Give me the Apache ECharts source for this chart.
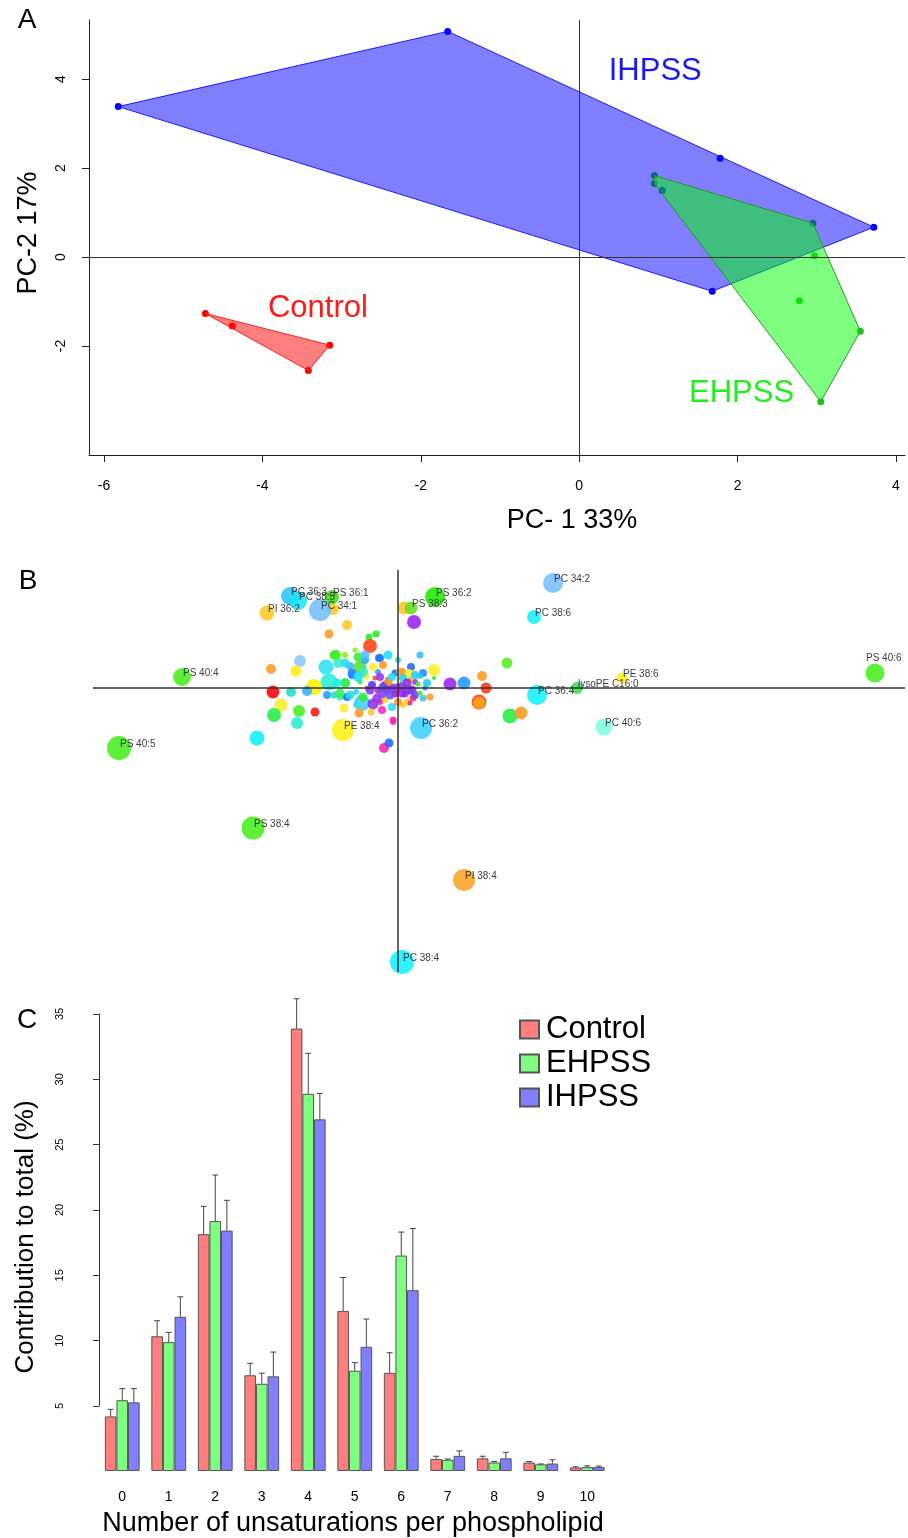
<!DOCTYPE html>
<html>
<head>
<meta charset="utf-8">
<script src="https://cdn.jsdelivr.net/npm/echarts@6/dist/echarts.min.js"></script>
<style>
  html, body { margin: 0; padding: 0; background: #fff; }
  #chart { width: 908px; height: 1538px; }
</style>
</head>
<body>
<div id="chart"></div>
<script>
// ---- A: PCA scores ----
const controlScores = [[-4.72, -1.27], [-4.38, -1.55], [-3.15, -1.98], [-3.42, -2.55]];
const ehpssScores = [[0.95, 1.83], [0.95, 1.65], [2.95, 0.76], [2.97, 0.03], [3.55, -1.67], [3.05, -3.25], [2.78, -0.98]];
const ihpssScores = [[-5.82, 3.38], [-1.66, 5.07], [1.78, 2.22], [3.72, 0.67], [1.68, -0.77], [1.05, 1.5]];
const groupNames = ["Control", "EHPSS", "IHPSS"];
const groupTextAt = [[-3.30, -1.15], [2.05, -3.06], [0.96, 4.16]];
const pc1Ticks = [-6, -4, -2, 0, 2, 4];
const pc2Ticks = [-2, 0, 2, 4];

// ---- B: loadings, unlabelled lipids ----
const otherPc1 = [
  -0.65, 0.06, 0.16, -0.69, -0.51, -0.29, -0.22, -0.28, -1.27, -0.98,
  -1.02, -0.72, -0.64, -0.60, -0.69, -0.84, -0.91, -1.07, -1.25, -1.17,
  -1.24, -0.99, -1.01, -0.83, -1.41, -0.71, -0.64, -0.58, -0.52, -0.48,
  -0.46, -0.38, -0.51, -0.36, -0.25, -0.39, -0.54, -0.27, -0.18, -0.10,
  0.13, 0.22, 0.36, 0.25, 0.52, 0.66, 0.84, 0.88, 0.81, 0.81,
  0.09, 0.15, -0.05, -0.14, -0.09, 0.25, 0.32, 0.36, 1.09, 1.12,
  1.23, -0.13, -0.06, 0.04, 0.10, 0.14, -0.20, -0.26, -0.03, 0.07,
  -0.10, -0.23, 0.17, -0.08, 0.12, -0.31, -0.38, 0.20, -0.03, -0.20,
  -0.33, 0.02, -0.13, 0.05, 0.00, -0.42, -0.53, -0.43, -0.18, 0.12,
  0.22, 0.27, 0.05, -0.11, -0.32, -0.42, 0.17, -0.16,
  -0.62, -0.53, -0.40, -0.33, -0.19, -0.15, -0.25, -0.35, -0.46, -0.40,
  -0.53, -0.61, -0.18, -0.10, -0.06, 0.04, 0.11, 0.05, 0.17, 0.29,
  -0.28, -0.15, -0.01, 0.09, 0.04, -0.08, -0.21, -0.35, -0.48, -0.58,
  -0.16, -0.06, 0.00, 0.22, -0.05
];
const otherPc2 = [
  0.79, 0.80, 0.66, 0.54, 0.63, 0.51, 0.54, 0.42, 0.19, 0.27,
  0.17, 0.21, 0.33, 0.25, 0.06, 0.01, -0.03, -0.04, -0.04, -0.17,
  -0.27, -0.23, -0.35, -0.24, -0.50, -0.07, -0.07, -0.09, 0.05, 0.22,
  0.13, 0.21, -0.09, -0.15, -0.16, -0.25, -0.20, -0.24, 0.30, 0.33,
  0.21, 0.33, 0.18, 0.15, 0.04, 0.05, 0.12, 0.00, -0.14, -0.15,
  -0.14, -0.10, -0.34, -0.60, -0.55, -0.10, -0.09, 0.10, 0.25, -0.28,
  -0.25, 0.03, 0.00, 0.02, -0.02, -0.02, -0.02, 0.03, -0.06, -0.06,
  0.08, 0.10, 0.06, 0.06, 0.08, 0.00, 0.06, 0.04, 0.15, 0.16,
  0.28, 0.16, -0.12, -0.17, 0.28, -0.04, 0.33, 0.38, -0.14, -0.15,
  0.12, 0.00, 0.10, -0.02, 0.12, -0.17, -0.07, -0.06,
  0.33, 0.25, 0.31, 0.33, 0.30, 0.23, 0.21, 0.16, 0.15, 0.11,
  0.05, 0.05, 0.11, 0.06, 0.11, 0.16, 0.15, 0.10, 0.13, 0.05,
  -0.02, 0.01, 0.00, 0.05, -0.05, -0.07, -0.10, -0.09, -0.07, -0.05,
  -0.22, -0.19, -0.14, -0.05, -0.32
];
const otherWeight = [
  12, 13, 14, 9, 10, 7, 7, 14, 10, 12,
  11, 15, 9, 10, 17, 16, 10, 10, 13, 13,
  14, 12, 12, 9, 15, 8, 7, 7, 8, 8,
  8, 13, 8, 16, 11, 9, 9, 7, 8, 9,
  8, 7, 12, 8, 13, 13, 10, 11, 15, 12,
  7, 7, 6, 10, 9, 7, 7, 4, 11, 15,
  13, 8, 9, 8, 10, 9, 7, 8, 7, 7,
  6, 5, 6, 5, 6, 5, 5, 5, 7, 6,
  8, 7, 6, 6, 6, 6, 6, 5, 6, 5,
  6, 5, 9, 8, 7, 6, 8, 9,
  10, 9, 9, 9, 8, 8, 8, 10, 9, 10,
  10, 9, 8, 8, 8, 8, 8, 8, 8, 8,
  9, 9, 9, 9, 9, 9, 9, 9, 9, 9,
  8, 8, 8, 5, 7
];
const otherColors = [
  "#ffc820", "#ffc820", "#9b22ee", "#ff9922", "#ffc820", "#22ee22", "#22ee22", "#ff4411", "#ff9922", "#8cc8ff",
  "#ffee11", "#30e0f0", "#22ee33", "#33eecc", "#28eedc", "#ffee00", "#30b4ff", "#22ddcc", "#ff0000", "#ffee22",
  "#22ee44", "#44ee22", "#22eecc", "#ff1111", "#11eeff", "#2299ff", "#22ddcc", "#33eeaa", "#22ee66", "#33bbff",
  "#2277ff", "#55dd33", "#2266ee", "#44ccee", "#8833ee", "#ff9922", "#ffee22", "#ffcc22", "#2288ff", "#22ddff",
  "#2266ee", "#33bbff", "#ffee22", "#2288ff", "#9922ee", "#2299ff", "#ff9922", "#ff3311", "#ff4411", "#ffaa11",
  "#ffcc22", "#ff2288", "#ff22cc", "#ff22aa", "#2266ff", "#44cccc", "#ff9922", "#22ee22", "#55ee22", "#22ee44",
  "#ff9922", "#8822ee", "#7733ee", "#8833dd", "#6644dd", "#8833ee", "#aa22ee", "#5533ee", "#aa11cc", "#9933ff",
  "#cc22cc", "#ff4422", "#9933ee", "#ffaa11", "#ffaa11", "#ff6622", "#33ee33", "#33ee33", "#2266ff", "#3399ff",
  "#22aaff", "#ffdd11", "#ffdd00", "#ffcc22", "#22ddee", "#22ddee", "#88ee11", "#88ee11", "#ee22aa", "#ff2277",
  "#22ccee", "#2288ff", "#ffcc00", "#9922ff", "#ffee22", "#33ddff", "#7744ee", "#8844ee",
  "#44ee22", "#22ddee", "#33ee33", "#55bbff", "#2277ff", "#ff9922", "#ffee22", "#33eebb", "#2288ff", "#22ddee",
  "#33ee55", "#22eedd", "#9933ee", "#ff9922", "#22ddee", "#ff9922", "#ffee22", "#22ddee", "#22ccee", "#22ccee",
  "#8833ee", "#6644ee", "#9933ee", "#8833ee", "#9922ee", "#6655ee", "#9933ee", "#33ee33", "#22ddee", "#33ee55",
  "#ff22cc", "#22ddee", "#ff9922", "#33ee33", "#ff22aa"
];

// ---- B: loadings, labelled lipids ----
const lipidNames = [
  "PC 36:3", "PC 38:5", "PC 34:1", "PS 36:1", "PI 36:2", "PS 36:2", "PS 38:3", "PC 34:2",
  "PC 38:6", "PS 40:6", "PE 38:6", "lysoPE C16:0", "PC 36:4", "PC 40:6", "PC 36:2",
  "PE 38:4", "PS 40:4", "PS 40:5", "PS 38:4", "PI 38:4", "PC 38:4"
];
const lipidPc1 = [-1.08, -1.00, -0.78, -0.66, -1.31, 0.37, 0.13, 1.55, 1.36, 4.77, 2.24, 1.79, 1.39, 2.06, 0.23, -0.55, -2.16, -2.79, -1.45, 0.66, 0.04];
const lipidPc2 = [0.92, 0.87, 0.78, 0.91, 0.75, 0.91, 0.80, 1.05, 0.71, 0.15, 0.10, 0.00, -0.07, -0.39, -0.40, -0.42, 0.11, -0.60, -1.40, -1.92, -2.74];
const lipidWeight = [18, 18, 22, 14, 15, 20, 13, 20, 14, 19, 11, 12, 20, 17, 22, 22, 18, 24, 23, 22, 24];
const lipidColors = [
  "#29c5ff", "#14e6ff", "#70bfff", "#3ee010", "#ffc824", "#22e600", "#66dd22", "#78c0ff",
  "#14f0ff", "#48ee1e", "#fff014", "#36dd50", "#14f0ff", "#80ffe0", "#40d0ff",
  "#fff014", "#48ee1e", "#48ee1e", "#48ee1e", "#ffa424", "#14f0ff"
];

// ---- C: unsaturation profile ----
const unsaturations = ["0", "1", "2", "3", "4", "5", "6", "7", "8", "9", "10"];
const controlMean = [4.18, 10.32, 18.14, 7.33, 33.88, 12.26, 7.52, 0.92, 0.97, 0.65, 0.27];
const controlErr = [0.54, 1.19, 2.13, 0.92, 2.29, 2.56, 1.54, 0.21, 0.16, 0.08, 0.05];
const ehpssMean = [5.42, 9.87, 19.14, 6.68, 28.89, 7.68, 16.50, 0.86, 0.65, 0.51, 0.30];
const ehpssErr = [0.89, 0.75, 3.53, 0.81, 3.10, 0.62, 1.80, 0.06, 0.08, 0.03, 0.10];
const ihpssMean = [5.26, 11.81, 18.41, 7.25, 26.93, 9.51, 13.85, 1.16, 0.97, 0.57, 0.30];
const ihpssErr = [1.05, 1.53, 2.32, 1.86, 1.99, 2.13, 4.72, 0.38, 0.46, 0.29, 0.08];

const FONT = "'Liberation Sans', Arial, Helvetica, sans-serif";

// monotone chain hull, used for the group polygons in A
function convexHull(points) {
  const p = points.slice().sort((a, b) => a[0] - b[0] || a[1] - b[1]);
  const cross = (o, a, b) => (a[0] - o[0]) * (b[1] - o[1]) - (a[1] - o[1]) * (b[0] - o[0]);
  const lower = [];
  const upper = [];
  for (const pt of p) {
    while (lower.length >= 2 && cross(lower[lower.length - 2], lower[lower.length - 1], pt) <= 0) lower.pop();
    lower.push(pt);
  }
  for (const pt of p.slice().reverse()) {
    while (upper.length >= 2 && cross(upper[upper.length - 2], upper[upper.length - 1], pt) <= 0) upper.pop();
    upper.push(pt);
  }
  return lower.slice(0, -1).concat(upper.slice(0, -1));
}

function hullSeries(scores, fill, stroke) {
  const hull = convexHull(scores);
  return {
    type: "custom",
    xAxisIndex: 0,
    yAxisIndex: 0,
    z: 3,
    silent: true,
    data: [[0, 0]],
    renderItem(params, api) {
      return {
        type: "polygon",
        shape: { points: hull.map((p) => api.coord(p)) },
        style: { fill: fill, stroke: stroke, lineWidth: 1 },
      };
    },
  };
}

function scoreSeries(scores, color) {
  return {
    type: "scatter",
    xAxisIndex: 0,
    yAxisIndex: 0,
    z: 2,
    silent: true,
    symbolSize: 7,
    itemStyle: { color: color, opacity: 1 },
    data: scores,
  };
}

// error bars drawn on top of the grouped bars
function errorSeries(means, errs, shift) {
  return {
    type: "custom",
    xAxisIndex: 2,
    yAxisIndex: 2,
    z: 4,
    silent: true,
    encode: { x: 0, y: 1 },
    data: means.map((m, i) => [i, m + errs[i], m]),
    renderItem(params, api) {
      const tip = api.coord([api.value(0), api.value(1)]);
      const base = api.coord([api.value(0), api.value(2)]);
      const x = base[0] + shift;
      const st = { stroke: "#444", lineWidth: 1 };
      return {
        type: "group",
        children: [
          { type: "line", shape: { x1: x, y1: base[1], x2: x, y2: tip[1] }, style: st },
          { type: "line", shape: { x1: x - 3, y1: tip[1], x2: x + 3, y2: tip[1] }, style: st },
        ],
      };
    },
  };
}

const otherPoints = otherPc1.map((x, i) => ({
  value: [x, otherPc2[i], otherWeight[i]],
  symbolSize: otherWeight[i],
  itemStyle: { color: otherColors[i], opacity: 0.88 },
}));

const namedPoints = lipidNames.map((name, i) => {
  const w = lipidWeight[i];
  return {
    name: name,
    value: [lipidPc1[i], lipidPc2[i], w],
    symbolSize: w,
    itemStyle: { color: lipidColors[i], opacity: 0.88 },
    label: {
      show: true,
      formatter: "{b}",
      position: name === "PS 40:6" ? [w / 2 - 9, w / 2 - 15] : [w / 2 + 1, w / 2 - 4],
      align: "left",
      verticalAlign: "middle",
      fontSize: 10,
      fontFamily: FONT,
      color: "#222",
    },
  };
});

const barW = 11.6;
const barColors = ["#ff7f7f", "#7fff7f", "#7f7fff"];
const barMeans = [controlMean, ehpssMean, ihpssMean];
const barErrs = [controlErr, ehpssErr, ihpssErr];
const groupTextColors = ["#ff1a1a", "#22ee22", "#1a1aee"];

const chart = echarts.init(document.getElementById("chart"), null, { renderer: "canvas" });

const axisTxt = { color: "#000", fontFamily: FONT };

const option = {
  animation: false,
  backgroundColor: "#fff",
  textStyle: { fontFamily: FONT },
  grid: [
    { left: 89, top: 20, width: 816, height: 435, outerBoundsMode: "none" },
    { left: 93, top: 570, width: 812, height: 402, outerBoundsMode: "none" },
    { left: 99, top: 1014, width: 511.5, height: 457, outerBoundsMode: "none" },
    { left: 99, top: 1014, width: 511.5, height: 392, outerBoundsMode: "none" },
  ],
  xAxis: [
    {
      gridIndex: 0,
      type: "value",
      min: -6.19,
      max: 4.114,
      splitLine: { show: false },
      axisLine: { show: true, onZero: false, lineStyle: { color: "#222", width: 1 } },
      axisTick: { show: true, length: 7, customValues: pc1Ticks, lineStyle: { color: "#222" } },
      axisLabel: { customValues: pc1Ticks, fontSize: 14, margin: 24, ...axisTxt },
    },
    { gridIndex: 1, type: "value", min: -3.05, max: 5.07, show: false },
    {
      gridIndex: 2,
      type: "category",
      data: unsaturations,
      axisLine: { show: false },
      axisTick: { show: false },
      axisLabel: { fontSize: 14, margin: 19, ...axisTxt },
    },
    { gridIndex: 3, type: "value", show: false },
  ],
  yAxis: [
    {
      gridIndex: 0,
      type: "value",
      min: -4.449,
      max: 5.326,
      splitLine: { show: false },
      axisLine: { show: true, onZero: false, lineStyle: { color: "#222", width: 1 } },
      axisTick: { show: true, length: 7, customValues: pc2Ticks, lineStyle: { color: "#222" } },
      axisLabel: { customValues: pc2Ticks, fontSize: 14, rotate: 90, margin: 21, ...axisTxt },
    },
    { gridIndex: 1, type: "value", min: -2.84, max: 1.18, show: false },
    { gridIndex: 2, type: "value", min: 0, max: 35, show: false },
    {
      gridIndex: 3,
      type: "value",
      min: 5,
      max: 35,
      interval: 5,
      offset: 13,
      splitLine: { show: false },
      axisLine: { show: true, lineStyle: { color: "#333", width: 1 } },
      axisTick: { show: true, length: 6, lineStyle: { color: "#333" } },
      axisLabel: { fontSize: 11, rotate: 90, margin: 21, ...axisTxt },
    },
  ],
  legend: {
    orient: "vertical",
    left: 514,
    top: 1009,
    itemWidth: 19,
    itemHeight: 18,
    itemGap: 3,
    icon: "rect",
    data: groupNames,
    textStyle: { fontSize: 31, lineHeight: 31, color: "#000", fontFamily: FONT, padding: [0, 0, 0, 2] },
  },
  graphic: [
    { type: "text", x: 27, y: 20, style: { text: "A", fontSize: 28, fontFamily: FONT, fill: "#000", align: "center", verticalAlign: "middle" } },
    { type: "text", x: 28, y: 581, style: { text: "B", fontSize: 28, fontFamily: FONT, fill: "#000", align: "center", verticalAlign: "middle" } },
    { type: "text", x: 27, y: 1020, style: { text: "C", fontSize: 28, fontFamily: FONT, fill: "#000", align: "center", verticalAlign: "middle" } },
    { type: "text", x: 572, y: 521, style: { text: "PC- 1 33%", fontSize: 27, fontFamily: FONT, fill: "#000", align: "center", verticalAlign: "middle" } },
    { type: "text", x: 29, y: 233, rotation: Math.PI / 2, style: { text: "PC-2 17%", fontSize: 27, fontFamily: FONT, fill: "#000", align: "center", verticalAlign: "middle" } },
    { type: "text", x: 26, y: 1237, rotation: Math.PI / 2, style: { text: "Contribution to total (%)", fontSize: 26, fontFamily: FONT, fill: "#000", align: "center", verticalAlign: "middle" } },
    { type: "text", x: 353, y: 1524, style: { text: "Number of unsaturations per phospholipid", fontSize: 27, fontFamily: FONT, fill: "#000", align: "center", verticalAlign: "middle" } },
  ],
  series: [
    // A
    scoreSeries(ihpssScores, "#0000ff"),
    scoreSeries(ehpssScores, "#1fc01f"),
    scoreSeries(controlScores, "#ff0000"),
    hullSeries(ihpssScores, "rgba(0,0,255,0.5)", "#1a1aff"),
    hullSeries(ehpssScores, "rgba(0,255,0,0.5)", "#2a9a2a"),
    hullSeries(controlScores, "rgba(255,0,0,0.5)", "#ff2020"),
    {
      type: "custom",
      xAxisIndex: 0,
      yAxisIndex: 0,
      z: 5,
      silent: true,
      data: groupTextAt.map((p, i) => [p[0], p[1], i]),
      renderItem(params, api) {
        const pt = api.coord([api.value(0), api.value(1)]);
        const k = api.value(2);
        return {
          type: "text",
          x: pt[0],
          y: pt[1],
          style: {
            text: groupNames[k],
            fill: groupTextColors[k],
            fontSize: 31,
            fontFamily: FONT,
            align: "center",
            verticalAlign: "middle",
          },
        };
      },
    },
    {
      type: "scatter",
      xAxisIndex: 0,
      yAxisIndex: 0,
      silent: true,
      data: [],
      markLine: {
        silent: true,
        symbol: ["none", "none"],
        label: { show: false },
        lineStyle: { color: "#333", width: 1, type: "solid" },
        data: [{ xAxis: 0 }, { yAxis: 0 }],
      },
    },
    // B
    {
      type: "scatter",
      xAxisIndex: 1,
      yAxisIndex: 1,
      silent: true,
      data: otherPoints.concat(namedPoints),
      markLine: {
        silent: true,
        symbol: ["none", "none"],
        label: { show: false },
        lineStyle: { color: "#333", width: 1.5, type: "solid" },
        data: [{ xAxis: 0 }, { yAxis: 0 }],
      },
    },
    // C
    ...groupNames.map((n, k) => ({
      name: n,
      type: "bar",
      xAxisIndex: 2,
      yAxisIndex: 2,
      barWidth: barW,
      barGap: "0%",
      itemStyle: { color: barColors[k], borderColor: "#555", borderWidth: 1 },
      data: barMeans[k],
    })),
    ...barMeans.map((m, k) => errorSeries(m, barErrs[k], (k - 1) * barW)),
  ],
};

chart.setOption(option);
</script>
</body>
</html>
